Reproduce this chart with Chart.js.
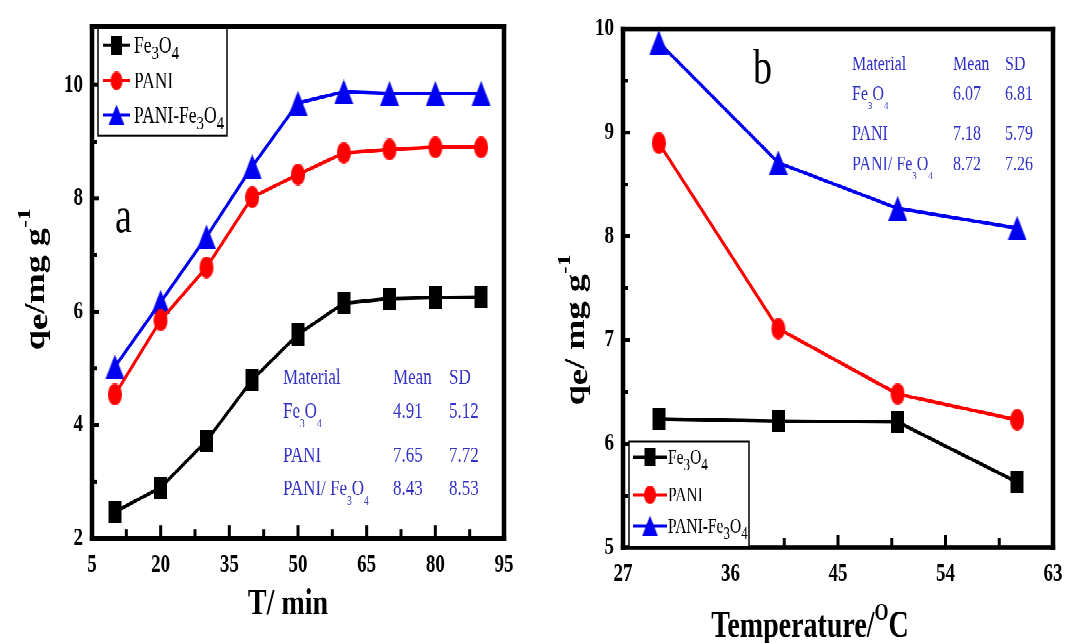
<!DOCTYPE html>
<html><head><meta charset="utf-8">
<script src="https://cdn.jsdelivr.net/npm/chart.js@4.4.1/dist/chart.umd.min.js"></script>
<style>
html,body{margin:0;padding:0;background:#fff;overflow:hidden;width:1073px;height:643px;}
#wrap{position:absolute;left:0;top:0;width:1073px;height:495px;transform:scaleY(1.29899);transform-origin:0 0;}
#ca{position:absolute;left:0;top:0;width:540px;height:495px;}
#cb{position:absolute;left:540px;top:0;width:533px;height:495px;}
</style></head><body>
<div id="wrap"><canvas id="ca" width="540" height="495"></canvas><canvas id="cb" width="533" height="495"></canvas></div>
<script>
// ---------------- data ----------------
const seriesNames = ['Fe3O4', 'PANI', 'PANI-Fe3O4'];
const timeMin = [10, 20, 30, 40, 50, 60, 70, 80, 90];
const fe3o4Time = [2.47, 2.90, 3.72, 4.80, 5.60, 6.15, 6.23, 6.25, 6.26];
const paniTime = [4.54, 5.85, 6.78, 8.02, 8.42, 8.80, 8.86, 8.90, 8.90];
const paniFeTime = [5.03, 6.17, 7.32, 8.56, 9.68, 9.88, 9.85, 9.85, 9.85];
const tempC = [30, 40, 50, 60];
const fe3o4Temp = [6.24, 6.22, 6.21, 5.63];
const paniTemp = [8.90, 7.11, 6.48, 6.23];
const paniFeTemp = [9.87, 8.71, 8.27, 8.08];
const xTicksA = [5, 20, 35, 50, 65, 80, 95];
const yTicksA = [2, 4, 6, 8, 10];
const xTicksB = [27, 36, 45, 54, 63];
const yTicksB = [5, 6, 7, 8, 9, 10];
const tableHeader = ['Material', 'Mean', 'SD'];
const tableRowsA = [['Fe3O4', '4.91', '5.12'], ['PANI', '7.65', '7.72'], ['PANI/ Fe3O4', '8.43', '8.53']];
const tableRowsB = [['Fe3O4', '6.07', '6.81'], ['PANI', '7.18', '5.79'], ['PANI/ Fe3O4', '8.72', '7.26']];

// ---------------- helpers ----------------
const FONT = "'Liberation Serif','Times New Roman',serif";
const COLORS = ['#000000', '#ff0000', '#0000f0'];

function makeMarker(type, color, w, h) {
  const c = document.createElement('canvas'); c.width = w; c.height = h;
  const g = c.getContext('2d'); g.fillStyle = color;
  if (type === 'rect') g.fillRect(0, 0, w, h);
  else if (type === 'circle') { g.beginPath(); g.ellipse(w / 2, h / 2, w / 2, h / 2, 0, 0, Math.PI * 2); g.fill(); }
  else { g.beginPath(); g.moveTo(w / 2, 0); g.lineTo(w, h); g.lineTo(0, h); g.closePath(); g.fill(); }
  return c;
}
const markers = [makeMarker('rect', COLORS[0], 13, 17), makeMarker('circle', COLORS[1], 14, 17), makeMarker('tri', COLORS[2], 19, 19)];

function fontStr(s) { return (s.bold ? 'bold ' : '') + s.size + 'px ' + FONT; }
function drawSegs(ctx, segs, x, y, align) {
  let total = 0;
  segs.forEach(s => { ctx.font = fontStr(s); s.w = ctx.measureText(s.t).width + (s.gap || 0); total += s.w; });
  let cx = align === 'center' ? x - total / 2 : align === 'right' ? x - total : x;
  ctx.textAlign = 'left'; ctx.textBaseline = 'alphabetic';
  segs.forEach(s => { ctx.font = fontStr(s); ctx.fillText(s.t, cx, y + (s.dy || 0)); cx += s.w; });
}
function chemSegs(str, size, bold, subScale, subDy) {
  const out = [];
  for (let i = 0; i < str.length; i++) {
    const ch = str[i];
    const sub = /\d/.test(ch) && i > 0 && /[A-Za-z]/.test(str[i - 1]);
    const last = out[out.length - 1];
    if (sub) out.push({ t: ch, size: size * subScale, bold, dy: size * subDy, sub: true });
    else if (last && !last.sub) last.t += ch;
    else out.push({ t: ch, size, bold });
  }
  return out;
}

const decor = {
  id: 'decor',
  afterDraw(chart, args, o) {
    const ctx = chart.ctx, a = chart.chartArea, xs = chart.scales.x, ys = chart.scales.y;
    ctx.save();
    ctx.fillStyle = '#000';
    // inward ticks (major + minor midpoints)
    const xv = xs.ticks.map(t => t.value), yv = ys.ticks.map(t => t.value);
    const xt = (v, len) => { const p = xs.getPixelForValue(v); ctx.fillRect(p - 1.5, a.bottom - len, 3, len); };
    const yt = (v, len) => { const p = ys.getPixelForValue(v); ctx.fillRect(a.left, p - 1.5, len, 3); };
    xv.forEach((v, i) => { xt(v, 10); if (i < xv.length - 1) xt((v + xv[i + 1]) / 2, 7); });
    yv.forEach((v, i) => { yt(v, 7); if (i < yv.length - 1) yt((v + yv[i + 1]) / 2, 5); });
    // frame
    ctx.fillRect(a.left - 2.25, a.top - 1.9, a.width + 4.5, 3.8);
    ctx.fillRect(a.left - 2.25, a.bottom - 1.9, a.width + 4.5, 3.8);
    ctx.fillRect(a.left - 2.25, a.top - 1.9, 4.5, a.height + 3.8);
    ctx.fillRect(a.right - 2.25, a.top - 1.9, 4.5, a.height + 3.8);

    // legend box
    const L = o.legend;
    ctx.fillStyle = '#fff';
    ctx.fillRect(L.x1, L.y1, L.x2 - L.x1, L.y2 - L.y1);
    ctx.strokeStyle = '#000'; ctx.lineWidth = 1.5;
    ctx.strokeRect(L.x1, L.y1, L.x2 - L.x1, L.y2 - L.y1);
    chart.data.datasets.forEach((d, i) => {
      const cy = L.rows[i];
      ctx.strokeStyle = d.borderColor; ctx.lineWidth = 2.5;
      ctx.beginPath(); ctx.moveTo(L.lx1, cy); ctx.lineTo(L.lx2, cy); ctx.stroke();
      const m = d.pointStyle, sc = 0.85;
      ctx.drawImage(m, (L.lx1 + L.lx2) / 2 - m.width * sc / 2, cy - m.height * sc / 2, m.width * sc, m.height * sc);
      ctx.fillStyle = '#000';
      drawSegs(ctx, chemSegs(d.label, L.size, false, 0.85, 0.3), L.tx, cy + L.size * 0.33, 'left');
    });

    // stats table
    const T = o.table;
    ctx.fillStyle = T.color;
    tableHeader.forEach((h, j) => drawSegs(ctx, [{ t: h, size: T.size }], T.cols[j], T.rows[0], 'left'));
    T.data.forEach((r, i) => {
      drawSegs(ctx, chemSegs(r[0], T.size, false, 0.55, 0.45), T.cols[0], T.rows[i + 1], 'left');
      drawSegs(ctx, [{ t: r[1], size: T.size }], T.cols[1], T.rows[i + 1], 'left');
      drawSegs(ctx, [{ t: r[2], size: T.size }], T.cols[2], T.rows[i + 1], 'left');
    });

    // panel letter
    ctx.fillStyle = '#000';
    drawSegs(ctx, [{ t: o.letter.t, size: 38 }], o.letter.x, o.letter.y, 'left');

    // axis titles
    const Y = o.ytitle;
    ctx.save();
    ctx.translate(Y.x, Y.y); ctx.rotate(-Math.PI / 2);
    drawSegs(ctx, Y.segs, 0, 0, 'center');
    ctx.restore();
    const X = o.xtitle;
    drawSegs(ctx, X.segs, X.x, X.y, 'center');
    ctx.restore();
  }
};

function mkDatasets(xs, ys) {
  return ys.map((arr, i) => ({
    label: seriesNames[i],
    data: xs.map((x, k) => ({ x, y: arr[k] })),
    borderColor: COLORS[i], backgroundColor: COLORS[i], borderWidth: 2.8,
    pointStyle: markers[i], pointRadius: 9, pointHoverRadius: 9, tension: 0, clip: false
  }));
}

function mkScales(xmin, xmax, xt, ymin, ymax, yt, leftW, bottomH) {
  const tickFont = { family: FONT, size: 19, weight: 'bold' };
  return {
    x: {
      type: 'linear', min: xmin, max: xmax,
      afterBuildTicks: s => { s.ticks = xt.map(v => ({ value: v })); },
      afterFit: s => { s.height = bottomH; },
      grid: { display: false, drawTicks: false }, border: { display: false },
      ticks: { font: tickFont, color: '#000', padding: 9, maxRotation: 0, autoSkip: false }
    },
    y: {
      type: 'linear', min: ymin, max: ymax,
      afterBuildTicks: s => { s.ticks = yt.map(v => ({ value: v })); },
      afterFit: s => { s.width = leftW; },
      grid: { display: false, drawTicks: false }, border: { display: false },
      ticks: { font: tickFont, color: '#000', padding: 9, autoSkip: false }
    }
  };
}

function yTitleSegs(mid) {
  return [
    { t: 'q', size: 28, bold: true },
    { t: 'e', size: 28, bold: true, dy: 3 },
    { t: mid, size: 28, bold: true },
    { t: '-1', size: 18, bold: true, dy: -14 }
  ];
}

new Chart(document.getElementById('ca'), {
  type: 'line',
  data: { datasets: mkDatasets(timeMin, [fe3o4Time, paniTime, paniFeTime]) },
  plugins: [decor],
  options: {
    responsive: false, animation: false, devicePixelRatio: 2,
    layout: { padding: { top: 16.2, right: 36, left: 0, bottom: 0 } },
    scales: mkScales(5, 95, xTicksA, 2, 11.03, yTicksA, 92, 495 - 414.6),
    plugins: {
      legend: { display: false }, tooltip: { enabled: false },
      decor: {
        legend: { x1: 98, y1: 21.5, x2: 227, y2: 104.6, rows: [34.6, 62.3, 88.5], lx1: 103, lx2: 130, tx: 134, size: 17.5 },
        table: { color: '#3232c8', size: 17, cols: [283, 393, 449], rows: [295.4, 321.5, 355.4, 380.8], data: tableRowsA },
        letter: { t: 'a', x: 115, y: 178.5 },
        ytitle: { x: 44, y: 215, segs: yTitleSegs('/mg g') },
        xtitle: { x: 288, y: 473, segs: [{ t: 'T/ min', size: 28, bold: true }] }
      }
    }
  }
});

new Chart(document.getElementById('cb'), {
  type: 'line',
  data: { datasets: mkDatasets(tempC, [fe3o4Temp, paniTemp, paniFeTemp]) },
  plugins: [decor],
  options: {
    responsive: false, animation: false, devicePixelRatio: 2,
    layout: { padding: { top: 22.3, right: 20, left: 0, bottom: 0 } },
    scales: mkScales(27, 63, xTicksB, 5, 10, yTicksB, 83, 495 - 421.5),
    plugins: {
      legend: { display: false }, tooltip: { enabled: false },
      decor: {
        legend: { x1: 89, y1: 340, x2: 209, y2: 420.8, rows: [352, 381, 405], lx1: 93, lx2: 127, tx: 128, size: 15.5 },
        table: { color: '#3232c8', size: 16, cols: [312, 413, 465], rows: [54, 77, 107.7, 130.8], data: tableRowsB },
        letter: { t: 'b', x: 213, y: 64 },
        ytitle: { x: 44, y: 254, segs: yTitleSegs('/ mg g') },
        xtitle: { x: 270, y: 490, segs: [{ t: 'Temperature/', size: 28, bold: true }, { t: 'O', size: 18, bold: true, dy: -13 }, { t: 'C', size: 28, bold: true }] }
      }
    }
  }
});
</script>
</body></html>
